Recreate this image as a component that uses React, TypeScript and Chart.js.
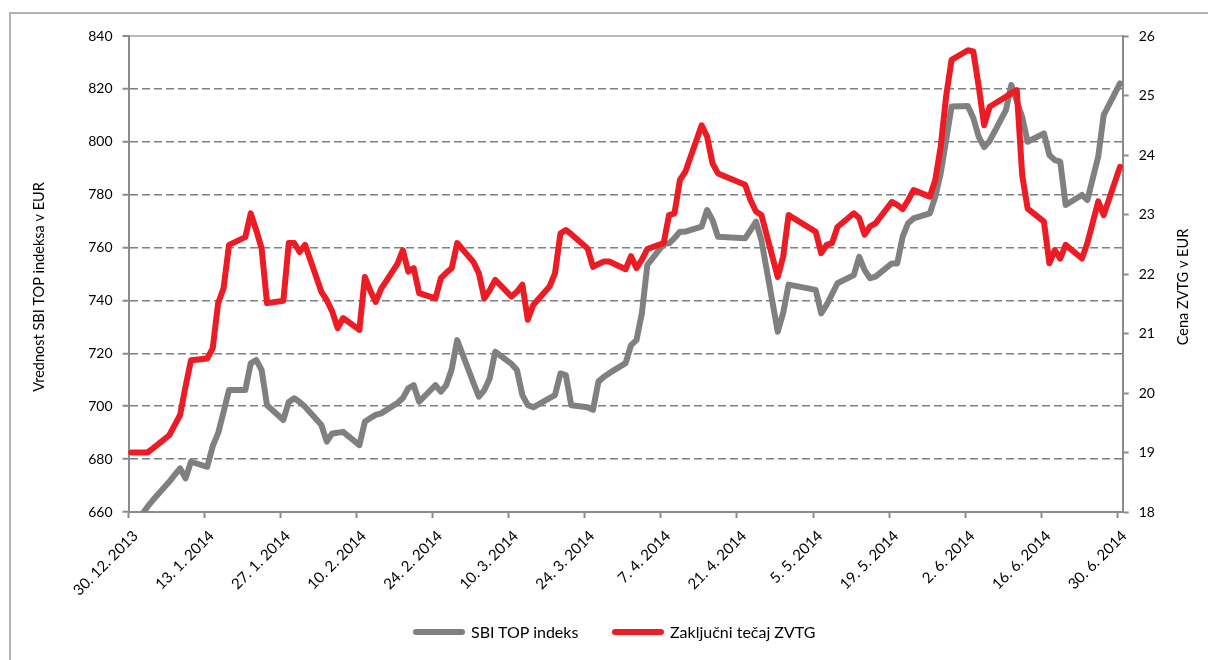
import React, { useEffect, useRef } from "react";
import { Chart, registerables } from "chart.js";

Chart.register(...registerables);

// ---- data ----
const tradingDates: string[] = [
  "2013-12-30", "2013-12-31", "2014-01-02", "2014-01-03",
  "2014-01-06", "2014-01-07", "2014-01-08", "2014-01-09", "2014-01-10",
  "2014-01-13", "2014-01-14", "2014-01-15", "2014-01-16", "2014-01-17",
  "2014-01-20", "2014-01-21", "2014-01-22", "2014-01-23", "2014-01-24",
  "2014-01-27", "2014-01-28", "2014-01-29", "2014-01-30", "2014-01-31",
  "2014-02-03", "2014-02-04", "2014-02-05", "2014-02-06", "2014-02-07",
  "2014-02-10", "2014-02-11", "2014-02-12", "2014-02-13", "2014-02-14",
  "2014-02-17", "2014-02-18", "2014-02-19", "2014-02-20", "2014-02-21",
  "2014-02-24", "2014-02-25", "2014-02-26", "2014-02-27", "2014-02-28",
  "2014-03-03", "2014-03-04", "2014-03-05", "2014-03-06", "2014-03-07",
  "2014-03-10", "2014-03-11", "2014-03-12", "2014-03-13", "2014-03-14",
  "2014-03-17", "2014-03-18", "2014-03-19", "2014-03-20", "2014-03-21",
  "2014-03-24", "2014-03-25", "2014-03-26", "2014-03-27", "2014-03-28",
  "2014-03-31", "2014-04-01", "2014-04-02", "2014-04-03", "2014-04-04",
  "2014-04-07", "2014-04-08", "2014-04-09", "2014-04-10", "2014-04-11",
  "2014-04-14", "2014-04-15", "2014-04-16", "2014-04-17",
  "2014-04-22", "2014-04-23", "2014-04-24", "2014-04-25",
  "2014-04-28", "2014-04-29", "2014-04-30",
  "2014-05-05", "2014-05-06", "2014-05-07", "2014-05-08", "2014-05-09",
  "2014-05-12", "2014-05-13", "2014-05-14", "2014-05-15", "2014-05-16",
  "2014-05-19", "2014-05-20", "2014-05-21", "2014-05-22", "2014-05-23",
  "2014-05-26", "2014-05-27", "2014-05-28", "2014-05-29", "2014-05-30",
  "2014-06-02", "2014-06-03", "2014-06-04", "2014-06-05", "2014-06-06",
  "2014-06-09", "2014-06-10", "2014-06-11", "2014-06-12", "2014-06-13",
  "2014-06-16", "2014-06-17", "2014-06-18", "2014-06-19", "2014-06-20",
  "2014-06-23", "2014-06-24", "2014-06-26", "2014-06-27",
  "2014-06-30",
];

const sbiTop: number[] = [
  655, 656, 662, 664.5,
  671.4, 674.0, 676.5, 672.7, 679.0,
  677.1, 684.9, 689.8, 697.8, 706.1,
  706.1, 716.2, 717.5, 713.7, 700.4,
  694.8, 701.6, 703.0, 701.6, 699.8,
  692.9, 686.6, 689.7, 690.0, 690.3,
  685.3, 694.1, 695.5, 696.7, 697.3,
  701.2, 703.1, 706.8, 708.0, 701.7,
  708.0, 705.5, 708.0, 714.1, 725.0,
  708.8, 703.6, 706.1, 710.6, 720.6,
  716.0, 713.7, 704.2, 700.4, 699.6,
  703.1, 704.2, 712.4, 711.8, 700.4,
  699.6, 698.6, 709.3, 711.1, 712.5,
  716.3, 723.1, 725.0, 735.2, 753.4,
  761.3, 761.6, 763.6, 766.0, 766.0,
  767.9, 774.2, 770.4, 764.1,
  763.5, 766.6, 769.8, 762.8,
  728.2, 735.2, 746.0,
  744.0, 735.1, 738.3, 742.4, 746.5,
  749.6, 756.5, 751.5, 748.4, 749.0,
  754.0, 754.0, 764.1, 769.2, 771.0,
  772.9, 779.2, 788.1, 800.7, 813.3,
  813.5, 809.0, 801.9, 798.0, 800.3,
  812.0, 821.5, 815.4, 809.4, 800.0,
  803.2, 795.0, 793.1, 792.5, 776.1,
  779.9, 778.0, 794.4, 810.1,
  822.1,
];

const zvtg: number[] = [
  19.0, 19.0, 19.0, 19.07,
  19.29, 19.46, 19.63, 20.11, 20.55,
  20.58, 20.75, 21.51, 21.76, 22.49,
  22.62, 23.02, 22.74, 22.43, 21.51,
  21.55, 22.52, 22.52, 22.37, 22.49,
  21.7, 21.56, 21.37, 21.09, 21.26,
  21.06, 21.95, 21.72, 21.53, 21.75,
  22.17, 22.4, 22.04, 22.1, 21.68,
  21.59, 21.93, 22.02, 22.1, 22.52,
  22.2, 22.01, 21.59, 21.73, 21.9,
  21.62, 21.7, 21.82, 21.23, 21.48,
  21.79, 22.01, 22.68, 22.74, 22.67,
  22.43, 22.12, 22.17, 22.21, 22.21,
  22.08, 22.3, 22.1, 22.24, 22.42,
  22.52, 22.99, 23.02, 23.58, 23.72,
  24.5, 24.31, 23.86, 23.69,
  23.5, 23.24, 23.05, 22.99,
  21.95, 22.29, 22.99,
  22.71, 22.35, 22.49, 22.52, 22.79,
  23.02, 22.94, 22.66, 22.8, 22.85,
  23.21, 23.16, 23.09, 23.24, 23.41,
  23.3, 23.58, 24.14, 24.99, 25.6,
  25.76, 25.74, 25.15, 24.5, 24.81,
  24.98, 25.04, 25.09, 23.66, 23.1,
  22.88, 22.18, 22.4, 22.26, 22.49,
  22.26, 22.52, 23.22, 22.99,
  23.8,
];

const tickLabels: string[] = [
  "30. 12. 2013", "13. 1. 2014", "27. 1. 2014", "10. 2. 2014", "24. 2. 2014",
  "10. 3. 2014", "24. 3. 2014", "7. 4. 2014", "21. 4. 2014", "5. 5. 2014",
  "19. 5. 2014", "2. 6. 2014", "16. 6. 2014", "30. 6. 2014",
];
const seriesNames: string[] = ["SBI TOP indeks", "Zaključni tečaj ZVTG"];
const axisTitles: string[] = ["Vrednost SBI TOP indeksa v EUR", "Cena ZVTG v EUR"];
const leftRange: number[] = [660, 840, 20];
const rightRange: number[] = [18, 26, 1];
const axisStart = "2013-12-30";
const axisEnd = "2014-07-01";

// ---- styles ----
const GRAY = "#808080";
const RED = "#ed1c24";
const AXIS = "#8c8c8c";
const GRID = "#7f7f7f";
const FONT = "Lato, 'Open Sans', sans-serif";

const dayOf = (s: string): number => {
  const [y, m, d] = s.split("-").map(Number);
  const [y0, m0, d0] = axisStart.split("-").map(Number);
  return Math.round((Date.UTC(y, m - 1, d) - Date.UTC(y0, m0 - 1, d0)) / 86400000);
};

const titlePlugin = {
  id: "sideTitles",
  afterDraw(chart: any) {
    const ctx = chart.ctx as CanvasRenderingContext2D;
    const draw = (text: string, x: number, y: number) => {
      ctx.save();
      ctx.fillStyle = "#000";
      ctx.font = `14.5px ${FONT}`;
      ctx.textAlign = "center";
      ctx.textBaseline = "middle";
      ctx.translate(x, y);
      ctx.rotate(-Math.PI / 2);
      ctx.fillText(text, 0, 0);
      ctx.restore();
    };
    draw(axisTitles[0], 39, 287);
    draw(axisTitles[1], 1183, 287);
  },
};

export default function App() {
  const ref = useRef<HTMLCanvasElement>(null);

  useEffect(() => {
    const canvas = ref.current;
    if (!canvas) return;
    const tickValues = tickLabels.map((_, i) => i * 14);
    const toPoints = (vals: number[]) =>
      tradingDates.map((d, i) => ({ x: dayOf(d) + 0.5, y: vals[i] }));
    const tickFont = { family: FONT, size: 14 };

    const chart = new Chart(canvas, {
      type: "line",
      data: {
        datasets: [
          {
            label: seriesNames[0],
            data: toPoints(sbiTop),
            yAxisID: "y",
            borderColor: GRAY,
            backgroundColor: GRAY,
            borderWidth: 6,
            pointRadius: 0,
            tension: 0,
            borderJoinStyle: "round",
            borderCapStyle: "round",
            order: 2,
            clip: { left: 4, right: 4, top: 4, bottom: 0 },
          } as any,
          {
            label: seriesNames[1],
            data: toPoints(zvtg),
            yAxisID: "y1",
            borderColor: RED,
            backgroundColor: RED,
            borderWidth: 6,
            pointRadius: 0,
            tension: 0,
            borderJoinStyle: "round",
            borderCapStyle: "round",
            order: 1,
            clip: { left: 4, right: 4, top: 4, bottom: 0 },
          } as any,
        ],
      },
      options: {
        responsive: false,
        animation: false,
        events: [],
        layout: { padding: { top: 36, left: 0, right: 0, bottom: 0 } },
        plugins: {
          legend: { display: false },
          tooltip: { enabled: false },
        },
        scales: {
          x: {
            type: "linear",
            min: 0,
            max: dayOf(axisEnd),
            afterBuildTicks: (s: any) => {
              s.ticks = tickValues.map((v) => ({ value: v }));
            },
            afterFit: (s: any) => {
              s.height = 148;
            },
            grid: {
              drawOnChartArea: false,
              drawTicks: true,
              tickLength: 6,
              tickColor: AXIS,
              tickWidth: 2,
            },
            border: { display: true, color: AXIS, width: 2 },
            ticks: {
              autoSkip: false,
              maxRotation: 45,
              minRotation: 45,
              padding: 9,
              labelOffset: 7,
              color: "#000",
              font: { family: FONT, size: 15 },
              callback: (v: any) => {
                const i = tickValues.indexOf(Number(v));
                return i >= 0 ? tickLabels[i] : "";
              },
            },
          },
          y: {
            type: "linear",
            position: "left",
            min: leftRange[0],
            max: leftRange[1],
            afterFit: (s: any) => {
              s.width = 128.5;
            },
            ticks: {
              stepSize: leftRange[2],
              padding: 10,
              color: "#000",
              font: tickFont,
            },
            grid: {
              color: (c: any) =>
                c.tick && c.tick.value === leftRange[1]
                  ? "#bbbbbb"
                  : c.tick && c.tick.value === leftRange[0]
                  ? "rgba(0,0,0,0)"
                  : GRID,
              lineWidth: (c: any) => (c.tick && c.tick.value === leftRange[1] ? 2 : 1.5),
              tickColor: AXIS,
              tickLength: 6,
              tickWidth: 2,
            },
            border: {
              display: true,
              color: AXIS,
              width: 2,
              dash: (c: any) => (c.tick && c.tick.value === leftRange[1] ? [] : [8, 4]),
            },
          },
          y1: {
            type: "linear",
            position: "right",
            min: rightRange[0],
            max: rightRange[1],
            afterFit: (s: any) => {
              s.width = 85.3;
            },
            ticks: {
              stepSize: rightRange[2],
              padding: 10,
              color: "#000",
              font: tickFont,
            },
            grid: {
              drawOnChartArea: false,
              tickColor: AXIS,
              tickLength: 6,
              tickWidth: 2,
            },
            border: { display: true, color: AXIS, width: 2 },
          },
        },
      } as any,
      plugins: [titlePlugin],
    });
    return () => chart.destroy();
  }, []);

  const legendText: React.CSSProperties = {
    fontFamily: FONT,
    fontSize: 16,
    color: "#000",
    lineHeight: "20px",
    whiteSpace: "nowrap",
  };
  const swatch = (color: string): React.CSSProperties => ({
    width: 52,
    height: 6,
    borderRadius: 3,
    background: color,
    marginRight: 6,
  });

  return (
    <div style={{ position: "absolute", left: 0, top: 0, width: 1208, height: 660, background: "#fff", overflow: "hidden" }}>
      <div
        style={{
          position: "absolute",
          left: 9,
          top: 12,
          width: 1199,
          height: 648,
          borderLeft: "2px solid #b3b3b3",
          borderTop: "2px solid #b3b3b3",
          boxSizing: "border-box",
        }}
      />
      <canvas ref={ref} width={1208} height={660} style={{ position: "absolute", left: 0, top: 0 }} />
      <div style={{ position: "absolute", left: 413, top: 622, height: 20, display: "flex", alignItems: "center" }}>
        <div style={swatch(GRAY)} />
        <span style={legendText}>{seriesNames[0]}</span>
      </div>
      <div style={{ position: "absolute", left: 612, top: 622, height: 20, display: "flex", alignItems: "center" }}>
        <div style={swatch(RED)} />
        <span style={legendText}>{seriesNames[1]}</span>
      </div>
    </div>
  );
}
